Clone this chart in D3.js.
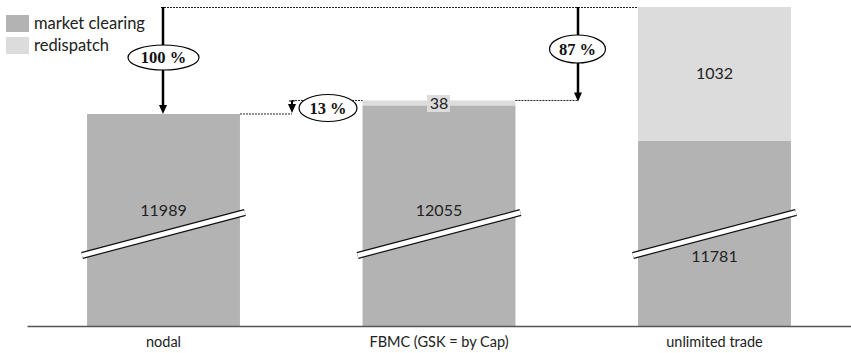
<!DOCTYPE html>
<html><head><meta charset="utf-8">
<script src="https://cdn.jsdelivr.net/npm/d3@7"></script>
<style>body{margin:0;background:#fff}svg{display:block}</style>
</head><body><svg id="c" width="851" height="353"></svg>
<script>
const categories = ["nodal", "FBMC (GSK = by Cap)", "unlimited trade"];
const marketClearing = [11989, 12055, 11781];
const redispatch = [0, 38, 1032];
const seriesNames = ["market clearing", "redispatch"];
const colors = ["#b3b3b3", "#dcdcdc"];
const arrowLabels = ["100 %", "13 %", "87 %"];

const svg = d3.select("#c");
const x = d3.scaleBand().domain(categories).range([27, 851]).paddingInner(0.445).paddingOuter(0.218);
const y = d3.scaleLinear().domain([10356, 12813]).range([326, 7]);
const totals = categories.map((c, i) => marketClearing[i] + redispatch[i]);
const fontSans = "Lato, 'Open Sans', sans-serif";
const fontSerif = "'Liberation Serif', 'DejaVu Serif', serif";

// bars
const g = svg.append("g");
categories.forEach((c, i) => {
  g.append("rect").attr("x", x(c)).attr("width", x.bandwidth())
    .attr("y", y(marketClearing[i])).attr("height", y(y.domain()[0]) - y(marketClearing[i]))
    .attr("fill", colors[0]);
  if (redispatch[i] > 0) {
    g.append("rect").attr("x", x(c)).attr("width", x.bandwidth())
      .attr("y", y(totals[i])).attr("height", y(marketClearing[i]) - y(totals[i]))
      .attr("fill", colors[1]);
  }
});

// axis
const axis = d3.axisBottom(x).tickSize(0).tickPadding(11);
const ax = svg.append("g").attr("transform", `translate(0,${y(y.domain()[0])})`).call(axis);
ax.select(".domain").attr("stroke", "#555").attr("stroke-width", 1.5);
ax.selectAll("text").attr("font-family", fontSans).attr("font-size", 14.5).attr("fill", "#222");

// break marks
categories.forEach((c, i) => {
  const x0 = x(c) - 5, x1 = x(c) + x.bandwidth() + 5;
  const y0 = 255.5, y1 = 212.5;
  svg.append("line").attr("x1", x0).attr("y1", y0).attr("x2", x1).attr("y2", y1)
    .attr("stroke", "#111").attr("stroke-width", 7);
  svg.append("line").attr("x1", x0).attr("y1", y0).attr("x2", x1).attr("y2", y1)
    .attr("stroke", "#fff").attr("stroke-width", 4.6);
});

// value labels
categories.forEach((c, i) => {
  const cx = x(c) + x.bandwidth() / 2;
  const below = i === 2;
  svg.append("text").attr("x", cx).attr("y", below ? 262 : 216)
    .attr("text-anchor", "middle").attr("font-family", fontSans).attr("font-size", 16)
    .attr("fill", "#222").text(marketClearing[i]);
});
// redispatch labels
{
  const c = categories[1], cx = x(c) + x.bandwidth() / 2;
  svg.append("rect").attr("x", cx - 12).attr("y", 95).attr("width", 23).attr("height", 17).attr("fill", colors[1]);
  svg.append("text").attr("x", cx).attr("y", 109).attr("text-anchor", "middle")
    .attr("font-family", fontSans).attr("font-size", 16).attr("fill", "#222").text(redispatch[1]);
  const c2 = categories[2], cx2 = x(c2) + x.bandwidth() / 2;
  svg.append("text").attr("x", cx2).attr("y", 79).attr("text-anchor", "middle")
    .attr("font-family", fontSans).attr("font-size", 16).attr("fill", "#222").text(redispatch[2]);
}

// dotted guides
function dotted(x1, y1, x2, y2) {
  svg.append("line").attr("x1", x1).attr("y1", y1).attr("x2", x2).attr("y2", y2)
    .attr("stroke", "#222").attr("stroke-width", 1).attr("stroke-dasharray", "2,1");
}
const yTop = y(totals[2]), yNodal = y(totals[0]), yF = y(totals[1]);
const ax1 = 163, ax2 = 292, ax3 = 578;
dotted(ax1 - 2, yTop + 0.5, x(categories[2]), yTop + 0.5);
dotted(x(categories[0]) + x.bandwidth(), yNodal, ax2, yNodal);
dotted(ax2, yF, x(categories[1]), yF);
dotted(x(categories[1]) + x.bandwidth(), yF, ax3, yF);

// arrows
function arrow(xx, y1, y2, w) {
  svg.append("line").attr("x1", xx).attr("y1", y1).attr("x2", xx).attr("y2", y2 - 8)
    .attr("stroke", "#000").attr("stroke-width", w);
  svg.append("path").attr("d", `M${xx - 4},${y2 - 9} L${xx + 4},${y2 - 9} L${xx},${y2} Z`).attr("fill", "#000");
}
arrow(ax1, yTop, yNodal, 2.5);
arrow(ax2, yF, yNodal - 1, 2);
svg.append("line").attr("x1", ax2 - 3).attr("y1", yF + 0.5).attr("x2", ax2 + 3).attr("y2", yF + 0.5).attr("stroke", "#000").attr("stroke-width", 1);
arrow(ax3, yTop, yF + 1, 2.5);

// ellipses
function ell(cx, cy, rx, ry, label) {
  svg.append("ellipse").attr("cx", cx).attr("cy", cy).attr("rx", rx).attr("ry", ry)
    .attr("fill", "#fff").attr("stroke", "#000").attr("stroke-width", 1.2);
  svg.append("text").attr("x", cx).attr("y", cy + 5.5).attr("text-anchor", "middle")
    .attr("font-family", fontSerif).attr("font-weight", "bold").attr("font-size", 16.5)
    .attr("fill", "#111").text(label);
}
ell(163.5, 57.5, 35.5, 12.5, arrowLabels[0]);
ell(328, 108, 29, 13.5, arrowLabels[1]);
ell(577.5, 49, 28, 14, arrowLabels[2]);

// legend
seriesNames.forEach((s, i) => {
  svg.append("rect").attr("x", 6).attr("y", 15 + i * 22).attr("width", 23).attr("height", 17).attr("fill", colors[i]);
  svg.append("text").attr("x", 34).attr("y", 29 + i * 22).attr("font-family", fontSans)
    .attr("font-size", 16.5).attr("fill", "#222").text(s);
});
</script></body></html>
